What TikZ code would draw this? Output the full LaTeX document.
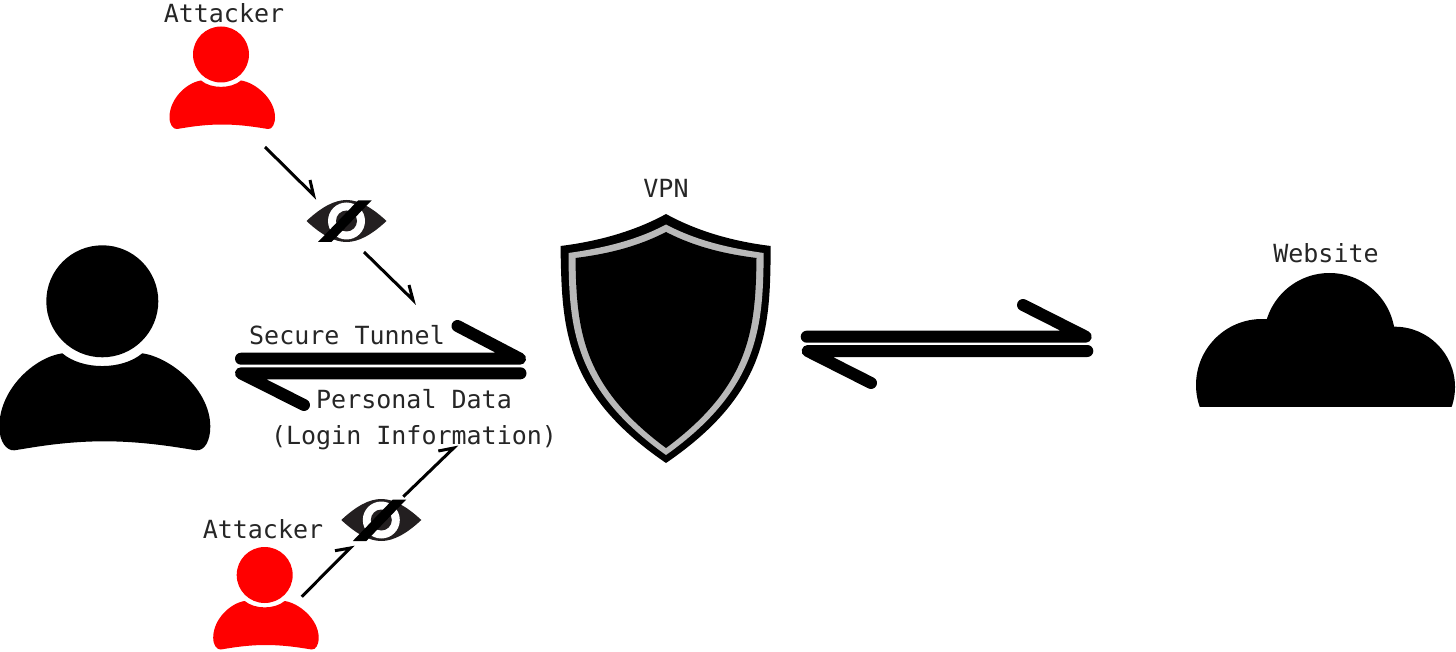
\documentclass[tikz,border=0pt]{standalone}
\usepackage{fontspec}
\setmainfont{DejaVu Sans Mono}
\definecolor{eyegray}{HTML}{231F20}
\definecolor{ringgray}{HTML}{B9B9B9}
\tikzset{
  label/.style={font=\fontsize{12.5pt}{15pt}\selectfont, anchor=base, inner sep=0pt, text=black!85},
  thickarrow/.style={line width=6pt, line cap=round, line join=round},
  thinarrow/.style={line width=1.5pt, line join=miter},
  personicon/.pic={
    \fill[pic actions] (0,0) circle (28);
    \fill[pic actions] (-20,26) .. controls (-10,34.5) and (10,34.5) .. (20,26)
      .. controls (34,28) and (54,44) .. (54,62.7)
      .. controls (54,70) and (51,74.8) .. (47,74.5)
      .. controls (40,73.5) and (22,70) .. (1,70)
      .. controls (-20,70) and (-37,73.5) .. (-44,74.5)
      .. controls (-48,74.8) and (-51.5,70) .. (-51.5,62.7)
      .. controls (-51.5,44) and (-34,28) .. (-20,26) -- cycle;
  },
  eyeicon/.pic={
    \fill[eyegray] (-40,0) .. controls (-25,-14) and (-12,-21) .. (0,-21)
      .. controls (12,-21) and (25,-14) .. (40,0)
      .. controls (25,14) and (12,21) .. (0,21)
      .. controls (-12,21) and (-25,14) .. (-40,0) -- cycle;
    \fill[white] (0,0) circle (18.5);
    \fill[eyegray] (0,0) circle (10.5);
    \fill[black] (-28.5,21) -- (-15,21) -- (25,-20.5) -- (11.5,-20.5) -- cycle;
  }
}
\begin{document}
\begin{tikzpicture}[x=0.5pt, y=-0.5pt]
  \useasboundingbox (0,0) rectangle (1456,652);
  % people
  \pic[fill=black, scale=2] (user) at (102.3,301.3) {personicon};
  \pic[fill=red] (attackertop) at (221,54.5) {personicon};
  \pic[fill=red] (attackerlow) at (264.7,575) {personicon};
  % eyes
  \pic (eyetop) at (346.5,221) {eyeicon};
  \pic (eyelow) at (381.3,520) {eyeicon};
  % shield
  \fill[black] (666,214) .. controls (695,230) and (730,241) .. (770.7,246)
    .. controls (770,325) and (770,392) .. (666,463)
    .. controls (562,392) and (562,325) .. (560.5,246)
    .. controls (601,241) and (637,230) .. (666,214) -- cycle;
  \fill[ringgray] (666,224.5) .. controls (695,240) and (728,248) .. (763.7,253)
    .. controls (763,325) and (760,388) .. (666,455)
    .. controls (572,388) and (569,325) .. (568.5,253)
    .. controls (604,248) and (637,240) .. (666,224.5) -- cycle;
  \fill[black] (666,232) .. controls (695,247) and (725,254) .. (756.5,258)
    .. controls (755.5,328) and (751,385) .. (666,448)
    .. controls (581,385) and (576.5,328) .. (575.5,258)
    .. controls (607,254) and (637,247) .. (666,232) -- cycle;
  % cloud
  \begin{scope}
    \clip (1190,265) rectangle (1456,406.7);
    \fill[black] (1329.5,338.6) circle (65.6);
    \fill[black] (1262,385) circle (66);
    \fill[black] (1394.7,387) circle (60.3);
    \fill[black] (1262,340) rectangle (1395,407);
  \end{scope}
  % ends of the connectors
  \coordinate (inA) at (241,358.7);
  \coordinate (inB) at (520,358.7);
  \coordinate (inC) at (457.5,326);
  \coordinate (backA) at (520.5,373.3);
  \coordinate (backB) at (241,373.3);
  \coordinate (backC) at (304,405);
  \coordinate (outA) at (806.7,336.7);
  \coordinate (outB) at (1085.7,336.7);
  \coordinate (outC) at (1023,305);
  \coordinate (retA) at (1087.3,351);
  \coordinate (retB) at (807.7,351);
  \coordinate (retC) at (871,383);
  \coordinate (spyA) at (265,147);
  \coordinate (spyB) at (313.5,195);
  \coordinate (spyC) at (310,180);
  \coordinate (spyD) at (364,252);
  \coordinate (spyE) at (413,300);
  \coordinate (spyF) at (409,285);
  \coordinate (spyG) at (301.7,596.7);
  \coordinate (spyH) at (350.3,548);
  \coordinate (spyI) at (335,550.7);
  \coordinate (spyJ) at (403.3,496.7);
  \coordinate (spyK) at (453.7,448);
  \coordinate (spyL) at (438.3,451);
  % thick arrows
  \draw[thickarrow] (inA) -- (inB) -- (inC);
  \draw[thickarrow] (backA) -- (backB) -- (backC);
  \draw[thickarrow] (outA) -- (outB) -- (outC);
  \draw[thickarrow] (retA) -- (retB) -- (retC);
  % thin arrows
  \draw[thinarrow] (spyA) -- (spyB) -- (spyC);
  \draw[thinarrow] (spyD) -- (spyE) -- (spyF);
  \draw[thinarrow] (spyG) -- (spyH) -- (spyI);
  \draw[thinarrow] (spyJ) -- (spyK) -- (spyL);
  % labels
  \node[label] (attackertext) at (224,22.7) {Attacker};
  \node[label] (attackerlowtext) at (263,538.3) {Attacker};
  \node[label] (vpntext) at (666,197.3) {VPN};
  \node[label] (websitetext) at (1326,262.3) {Website};
  \node[label] (tunneltext) at (347,344.3) {Secure Tunnel};
  \node[label] (datatext) at (414,408.3) {Personal Data};
  \node[label] (logintext) at (414,444) {(Login Information)};
\end{tikzpicture}
\end{document}
